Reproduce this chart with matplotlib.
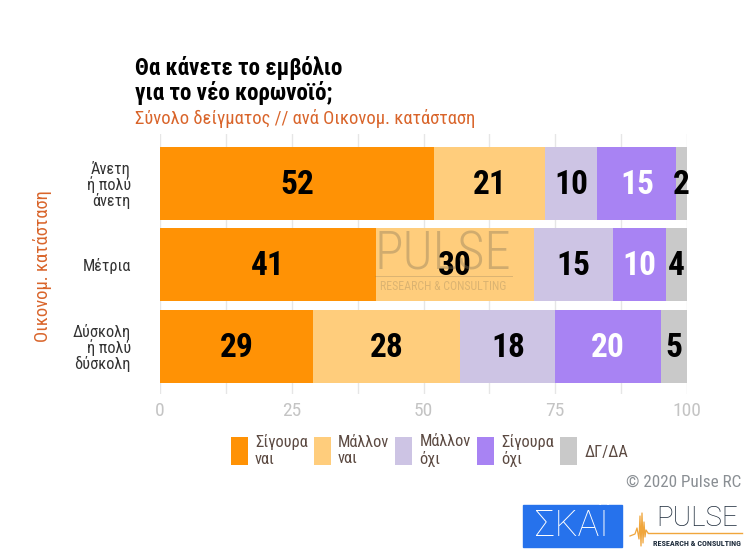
import matplotlib
matplotlib.use("Agg")
import matplotlib.pyplot as plt
from matplotlib.patches import Rectangle

W, H = 752, 555
plt.rcParams['font.family'] = ['Roboto Condensed', 'Roboto', 'DejaVu Sans']

categories = ["Άνετη\nή πολύ\nάνετη", "Μέτρια", "Δύσκολη\nή πολύ\nδύσκολη"]
series_names = ["Σίγουρα\nναι", "Μάλλον\nναι", "Μάλλον\nόχι", "Σίγουρα\nόχι", "ΔΓ/ΔΑ"]
sigoura_nai = [52, 41, 29]
mallon_nai = [21, 30, 28]
mallon_ochi = [10, 15, 18]
sigoura_ochi = [15, 10, 20]
dg_da = [2, 4, 5]
series = [sigoura_nai, mallon_nai, mallon_ochi, sigoura_ochi, dg_da]
colors = ["#ff9205", "#ffcd7c", "#cdc4e4", "#a883f3", "#c9c9c9"]
label_colors = ["black", "black", "black", "white", "black"]
xticks = [0, 25, 50, 75, 100]
xminor = [12.5, 37.5, 62.5, 87.5]
# logo squiggle, pixels
wave_x = [630, 635, 637, 639, 640, 641, 642, 643, 644, 645, 646, 648]
wave_y = [536, 534, 528, 539, 516, 546, 513, 543, 522, 537, 530, 533]

fig = plt.figure(figsize=(W / 100, H / 100), dpi=100)
ax = fig.add_axes([160 / W, 1 - 394 / H, 527 / W, 260 / H])

left = [0, 0, 0]
for vals, col, lc, name in zip(series, colors, label_colors, series_names):
    ax.barh(range(3), vals, left=left, height=0.896, color=col, label=name, zorder=3)
    for i, v in enumerate(vals):
        ax.text(left[i] + v / 2, i + 0.015, str(v), ha="center", va="center", color=lc,
                fontsize=24, fontweight="bold", zorder=5)
    left = [a + b for a, b in zip(left, vals)]

ax.set_xlim(0, 100)
ax.set_ylim(2.583, -0.607)
ax.set_xticks(xticks)
ax.set_xticks(xminor, minor=True)
ax.set_yticks(range(3))
ax.set_yticklabels(categories, fontsize=11.7, color="#333333", linespacing=1.0)
ax.tick_params(axis="y", length=0, pad=21)
ax.tick_params(axis="x", which="both", length=0, pad=6)
ax.tick_params(axis="x", labelsize=14, labelcolor="#c4c4c4")
ax.grid(axis="x", which="both", color="#e6e6e6", lw=1, zorder=0)
for s in ax.spines.values():
    s.set_visible(False)
ax.set_facecolor("none")


def ptext(x, y, s, **kw):
    return fig.text(x / W, 1 - y / H, s, **kw)


def pline(xs, ys, **kw):
    fig.add_artist(plt.Line2D([x / W for x in xs], [1 - y / H for y in ys],
                              transform=fig.transFigure, **kw))


ptext(135, 68, "Θα κάνετε το εμβόλιο", fontsize=16.6, fontweight="bold", va="center", color="black")
ptext(135, 93, "για το νέο κορωνοϊό;", fontsize=16.6, fontweight="bold", va="center", color="black")
ptext(135, 118, "Σύνολο δείγματος // ανά Οικονομ. κατάσταση", fontsize=13.4, va="center", color="#d9652b")
ptext(43, 266, "Οικονομ. κατάσταση", fontsize=13.3, rotation=90, ha="center", va="center", color="#d9652b")

# watermark
ptext(443, 255, "PULSE", fontsize=38, ha="center", va="center", color="#8a7a5a", alpha=0.4, zorder=4,
      fontweight="light")
ptext(443, 287, "RESEARCH & CONSULTING", fontsize=8.6, ha="center", va="center", color="#8a7a5a", alpha=0.3,
      zorder=4)
pline([375, 512], [276, 276], color="#8a7a5a", alpha=0.3, lw=0.7, zorder=4)

handles, labels = ax.get_legend_handles_labels()
leg = fig.legend(handles, labels, ncol=5, loc="center left", bbox_to_anchor=(216 / W, 1 - 450.5 / H),
                 frameon=False, fontsize=11.8, handlelength=1.04, handleheight=2.25,
                 columnspacing=0.38, handletextpad=0.43, labelcolor="#5c4a42", labelspacing=0)
for t in leg.get_texts():
    t.set_linespacing(1.1)

ptext(741, 482, "© 2020 Pulse RC", fontsize=12.3, ha="right", va="center", color="#8a8f94")

# logos
fig.add_artist(Rectangle((523 / W, 1 - 547 / H), 99 / W, 42 / H, transform=fig.transFigure, color="#2672ec"))
ptext(572, 526, "ΣΚΑΪ", fontsize=26, ha="center", va="center", color="white", family=["Roboto", "DejaVu Sans"],
      fontweight="light")
ptext(697, 518, "PULSE", fontsize=20, ha="center", va="center", color="#1c2a3a", fontweight="light",
      family=["Roboto", "DejaVu Sans"])
ptext(697, 543, "RESEARCH & CONSULTING", fontsize=5.9, ha="center", va="center", color="#1c2a3a", fontweight="bold")
pline([648, 742], [533, 533], color="#f0a63c", lw=1)
pline(wave_x, wave_y, color="#f0a63c", lw=0.9)

fig.savefig("out.png", dpi=100)
